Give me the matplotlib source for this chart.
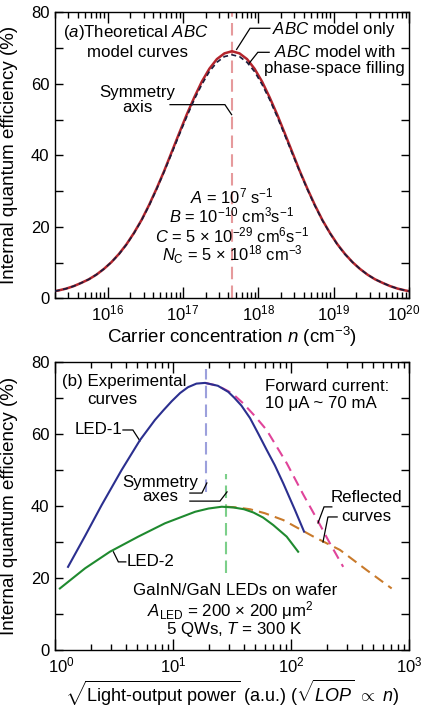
import matplotlib
matplotlib.use('Agg')
import matplotlib.pyplot as plt
from matplotlib.ticker import LogLocator, MultipleLocator, NullFormatter
from matplotlib.transforms import ScaledTranslation

plt.rcParams['font.family'] = ['Liberation Sans', 'DejaVu Sans']
plt.rcParams['mathtext.fontset'] = 'custom'
plt.rcParams['mathtext.rm'] = 'Liberation Sans'
plt.rcParams['mathtext.it'] = 'Liberation Sans:italic'
plt.rcParams['mathtext.bf'] = 'Liberation Sans:bold'
FS_TEXT = 12.2
FS_TICK = 12
FS_LABEL = 13.5
plt.rcParams['font.size'] = FS_TEXT

# ---------------- data: panel (a) ----------------
LOGN_A = [15.30, 15.35, 15.45, 15.55, 15.65, 15.75, 15.85, 15.95, 16.05, 16.15,
          16.25, 16.35, 16.45, 16.55, 16.65, 16.75, 16.85, 16.95, 17.05, 17.15,
          17.25, 17.35, 17.45, 17.55, 17.65, 17.75, 17.85, 17.95, 18.05, 18.15,
          18.25, 18.35, 18.45, 18.55, 18.65, 18.75, 18.85, 18.95, 19.05, 19.15,
          19.25, 19.35, 19.45, 19.55, 19.65, 19.75, 19.85, 19.95, 20.00]
IQE_ABC = [2.0, 2.2, 2.7, 3.4, 4.3, 5.3, 6.6, 8.2, 10.1, 12.4,
           15.1, 18.3, 21.9, 26.1, 30.7, 35.6, 40.9, 46.2, 51.4, 56.2,
           60.6, 64.2, 66.9, 68.5, 69.1, 68.5, 66.9, 64.2, 60.6, 56.2,
           51.4, 46.2, 40.9, 35.6, 30.7, 26.1, 21.9, 18.3, 15.1, 12.4,
           10.1, 8.2, 6.6, 5.3, 4.3, 3.4, 2.7, 2.2, 2.0]
IQE_PSF = [2.0, 2.2, 2.7, 3.4, 4.3, 5.3, 6.6, 8.2, 10.1, 12.3,
           15.0, 18.2, 21.8, 25.9, 30.5, 35.4, 40.5, 45.7, 50.8, 55.6,
           59.8, 63.4, 66.0, 67.6, 68.1, 67.6, 66.0, 63.4, 59.8, 55.6,
           50.8, 45.7, 40.5, 35.4, 30.5, 25.9, 21.8, 18.2, 15.0, 12.3,
           10.1, 8.2, 6.6, 5.3, 4.3, 3.4, 2.7, 2.2, 2.0]
SYM_N = 4.47e17
XLIM_A = (2e15, 1e20)

# ---------------- data: panel (b) ----------------
LED1_X = [1.29, 1.80, 2.49, 3.67, 5.25, 7.03, 8.3, 9.75, 11.5, 13.4, 15.8, 18.7,
          24, 29.4, 33, 38, 45, 53, 62.2, 73, 86, 108, 129]
LED1_Y = [23.1, 31.7, 40.3, 50.0, 58.3, 63.9, 66.6, 69.1, 71.4, 73.0, 74.0, 74.2,
          73.4, 71.7, 70.1, 67.9, 64.4, 60.0, 55.6, 51.3, 46.3, 38.9, 32.9]
LED2_X = [1.10, 1.80, 2.92, 5.08, 8.55, 15.4, 20, 25.9, 32.5, 40, 48, 58, 70.8,
          91.9, 115]
LED2_Y = [17.1, 22.7, 27.3, 31.5, 35.2, 38.4, 39.3, 39.8, 39.6, 39.1, 38.2, 36.8,
          34.7, 31.5, 27.3]
REF1_X = [18.7, 24, 29.4, 33, 39.4, 50, 62.2, 92, 127, 165, 214, 277]
REF1_Y = [74.2, 73.4, 71.9, 70.8, 68.5, 64.8, 61.1, 51.9, 43.2, 36.5, 29.6, 23.1]
REF2_X = [28.2, 35, 45, 60, 86, 155, 260, 438, 713]
REF2_Y = [39.8, 39.6, 39.1, 38.0, 36.1, 31.5, 27.8, 22.2, 17.1]
SYM1_X, SYM1_Y = 19.0, (44, 78)
SYM2_X, SYM2_Y = 28.0, (21.3, 49)
XLIM_B = (1, 1000)

C_RED = '#b3242c'
C_BLK = '#1c1c3c'
C_PINKAX = '#e69a9c'
C_BLUE = '#2b2f8f'
C_GREEN = '#1f8a2f'
C_MAG = '#e0449a'
C_ORANGE = '#c97a2b'
C_LBLUE = '#9ca0dc'
C_LGREEN = '#7ccf8a'

fig = plt.figure(figsize=(4.21, 7.09), dpi=100)
axa = fig.add_axes([0.1306, 0.5793, 0.8409, 0.4034])
axb = fig.add_axes([0.1306, 0.0832, 0.8409, 0.4062])


def style(ax, xlim):
    ax.set_xscale('log')
    ax.set_xlim(*xlim)
    ax.set_ylim(0, 80)
    ax.xaxis.set_major_locator(LogLocator(base=10, numticks=20))
    ax.xaxis.set_minor_locator(LogLocator(base=10, subs=range(2, 10), numticks=200))
    ax.xaxis.set_minor_formatter(NullFormatter())
    ax.yaxis.set_major_locator(MultipleLocator(20))
    ax.yaxis.set_minor_locator(MultipleLocator(10))
    ax.tick_params(which='both', direction='in', top=True, right=True, width=1,
                   labelsize=FS_TICK)
    ax.tick_params(axis='x', which='major', length=8, pad=4)
    ax.tick_params(axis='x', which='minor', length=4)
    ax.tick_params(axis='y', which='both', length=6, pad=4)
    for s in ax.spines.values():
        s.set_linewidth(1.0)
    ax.set_ylabel('Internal quantum efficiency (%)', fontsize=FS_LABEL)
    ax.yaxis.set_label_coords(-0.105, 0.5)


def leader(ax, xs, ys):
    ax.plot(xs, ys, transform=ax.transAxes, color='black', lw=0.9,
            clip_on=False, solid_joinstyle='miter')


def txt(ax, x, y, s, ha='center', fs=FS_TEXT):
    ax.text(x, y, s, transform=ax.transAxes, ha=ha, va='center', fontsize=fs)


def nudge_ticklabel(ax, loc, dx_px):
    for tick in ax.xaxis.get_major_ticks():
        if abs(tick.get_loc() - loc) / loc < 1e-6:
            tick.label1.set_transform(tick.label1.get_transform() +
                                      ScaledTranslation(dx_px / 100, 0,
                                                        fig.dpi_scale_trans))


# ---------------- panel (a) ----------------
style(axa, XLIM_A)
na = [10 ** v for v in LOGN_A]
axa.axvline(SYM_N, color=C_PINKAX, lw=1.5, dashes=(6, 3), zorder=1)
axa.plot(na, IQE_ABC, color=C_RED, lw=1.8, zorder=2)
axa.plot(na, IQE_PSF, color=C_BLK, lw=1.2, dashes=(3, 2), zorder=3)
axa.set_xlabel(r'Carrier concentration $n$ (cm$^{-3}$)', fontsize=FS_LABEL, labelpad=1)

txt(axa, 0.022, 0.930, r'($\it{a}$)Theoretical $\it{ABC}$', ha='left')
txt(axa, 0.090, 0.860, 'model curves', ha='left')
txt(axa, 0.788, 0.940, r'$\it{ABC}$ model only')
txt(axa, 0.790, 0.862, r'$\it{ABC}$ model with')
txt(axa, 0.790, 0.805, 'phase-space filling')
txt(axa, 0.232, 0.719, 'Symmetry')
txt(axa, 0.232, 0.667, 'axis')
leader(axa, [0.607, 0.551, 0.513], [0.944, 0.944, 0.870])
leader(axa, [0.605, 0.573, 0.548], [0.860, 0.860, 0.821])
leader(axa, [0.325, 0.480, 0.499], [0.677, 0.677, 0.642])

params = [r'$A$ = 10$^{7}$ s$^{-1}$',
          r'$B$ = 10$^{-10}$ cm$^{3}$s$^{-1}$',
          r'$C$ = 5 × 10$^{-29}$ cm$^{6}$s$^{-1}$',
          r'$N_{\mathrm{C}}$ = 5 × 10$^{18}$ cm$^{-3}$']
for t, yy in zip(params, [0.356, 0.288, 0.221, 0.152]):
    txt(axa, 0.5, yy, t, fs=11.9)

# ---------------- panel (b) ----------------
style(axb, XLIM_B)
axb.vlines(SYM1_X, *SYM1_Y, color=C_LBLUE, lw=1.5, linestyles=(0, (6, 3)), zorder=1)
axb.vlines(SYM2_X, *SYM2_Y, color=C_LGREEN, lw=1.5, linestyles=(0, (6, 3)), zorder=1)
axb.plot(REF1_X, REF1_Y, color=C_MAG, lw=1.5, dashes=(5, 3), zorder=2)
axb.plot(REF2_X, REF2_Y, color=C_ORANGE, lw=1.5, dashes=(5, 3), zorder=2)
axb.plot(LED1_X, LED1_Y, color=C_BLUE, lw=1.5, zorder=3)
axb.plot(LED2_X, LED2_Y, color=C_GREEN, lw=1.5, zorder=3)
axb.set_xlabel(r'$\sqrt{\text{Light-output power}}$ (a.u.) ($\sqrt{LOP}$ $\propto$ $n$)',
               fontsize=13, labelpad=2)

txt(axb, 0.020, 0.932, '(b) Experimental', ha='left')
txt(axb, 0.091, 0.870, 'curves', ha='left')
txt(axb, 0.593, 0.914, 'Forward current:', ha='left')
txt(axb, 0.593, 0.855, '10 μA ~ 70 mA', ha='left')
txt(axb, 0.189, 0.764, 'LED-1', ha='right')
leader(axb, [0.192, 0.220, 0.240], [0.764, 0.764, 0.726])
txt(axb, 0.297, 0.580, 'Symmetry')
txt(axb, 0.297, 0.532, 'axes')
leader(axb, [0.381, 0.415, 0.429], [0.545, 0.545, 0.580])
leader(axb, [0.381, 0.466, 0.486], [0.517, 0.517, 0.549])
txt(axb, 0.879, 0.528, 'Reflected')
txt(axb, 0.879, 0.462, 'curves')
leader(axb, [0.782, 0.760, 0.743], [0.497, 0.497, 0.441])
leader(axb, [0.797, 0.771, 0.757], [0.462, 0.462, 0.375])
txt(axb, 0.203, 0.306, 'LED-2', ha='left')
leader(axb, [0.165, 0.179, 0.200], [0.341, 0.306, 0.306])
txt(axb, 0.508, 0.208, 'GaInN/GaN LEDs on wafer')
txt(axb, 0.495, 0.138, r'$A_{\mathrm{LED}}$ = 200 × 200 μm$^{2}$')
txt(axb, 0.505, 0.070, r'5 QWs, $T$ = 300 K')

# nudge the edge tick labels inward, as in the reference
fig.canvas.draw()
nudge_ticklabel(axa, XLIM_A[1], -5)
nudge_ticklabel(axb, XLIM_B[0], 6)

fig.savefig('out.png', dpi=100)
